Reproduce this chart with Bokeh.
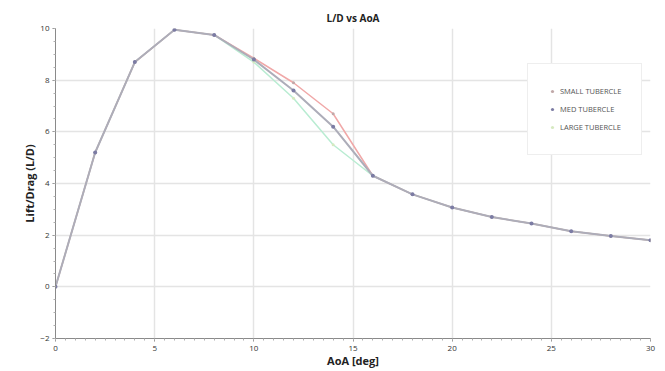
from bokeh.plotting import figure
from bokeh.models import Range1d, Legend, LegendItem, FixedTicker
from bokeh.embed import file_html
from bokeh.resources import INLINE

aoa = [0, 2, 4, 6, 8, 10, 12, 14, 16, 18, 20, 22, 24, 26, 28, 30]
small_tub = [0.0, 5.2, 8.7, 9.95, 9.75, 8.85, 7.9, 6.7, 4.3, 3.58, 3.07, 2.7, 2.45, 2.15, 1.97, 1.8]
med_tub = [0.0, 5.2, 8.7, 9.95, 9.75, 8.8, 7.6, 6.2, 4.3, 3.58, 3.07, 2.7, 2.45, 2.15, 1.97, 1.8]
large_tub = [0.0, 5.2, 8.7, 9.95, 9.75, 8.7, 7.3, 5.5, 4.3, 3.58, 3.07, 2.7, 2.45, 2.15, 1.97, 1.8]
x_ticks = [0, 5, 10, 15, 20, 25, 30]
y_ticks = [-2, 0, 2, 4, 6, 8, 10]

p = figure(width=657, height=370, output_backend="svg", toolbar_location=None,
           x_range=Range1d(0, 30), y_range=Range1d(-2, 10),
           min_border_left=55, min_border_right=7, min_border_top=28, min_border_bottom=28)

p.title.text = "L/D vs AoA"
p.title.align = "center"
p.title.text_font = "Open Sans"
p.title.text_font_size = "10px"
p.title.text_color = "#222222"
p.title.standoff = 8

p.outline_line_color = None
p.background_fill_color = "white"

for ax in (p.xaxis[0], p.yaxis[0]):
    ax.axis_line_color = "#8a8a8a"
    ax.major_tick_line_color = "#8a8a8a"
    ax.minor_tick_line_color = "#b0b0b0"
    ax.major_tick_out = 3
    ax.major_tick_in = 0
    ax.minor_tick_out = 2
    ax.minor_tick_in = 0
    ax.major_label_text_font = "Open Sans"
    ax.major_label_text_font_size = "8px"
    ax.major_label_text_color = "#333333"
    ax.axis_label_text_font = "Open Sans"
    ax.axis_label_text_font_size = "11px"
    ax.axis_label_text_font_style = "bold"
    ax.axis_label_text_color = "#222222"

p.xaxis.major_label_standoff = 4
p.yaxis.major_label_standoff = 3
p.xaxis.axis_label_standoff = -1
p.yaxis.axis_label_standoff = 0

p.xaxis.ticker = FixedTicker(ticks=x_ticks, minor_ticks=[x * 0.5 for x in range(0, 61)])
p.yaxis.ticker = FixedTicker(ticks=y_ticks, minor_ticks=[y * 0.5 - 2 for y in range(0, 25)])
p.xaxis.axis_label = "AoA [deg]"
p.yaxis.axis_label = "Lift/Drag (L/D)"

p.xgrid.ticker = FixedTicker(ticks=x_ticks)
p.ygrid.ticker = FixedTicker(ticks=y_ticks)
p.grid.grid_line_color = "#e4e4e4"
p.grid.grid_line_width = 1.5

l_large = p.line(aoa, large_tub, line_color="#b9ecd2", line_width=1.5)
s_large = p.scatter(aoa, large_tub, size=3, fill_color="#d6e9c0", line_color=None)
l_small = p.line(aoa, small_tub, line_color="#f0a8a8", line_width=1.5)
s_small = p.scatter(aoa, small_tub, size=3, fill_color="#c0a8a8", line_color=None)
l_med = p.line(aoa, med_tub, line_color="#adadb9", line_width=2)
s_med = p.scatter(aoa, med_tub, size=4, fill_color="#7c7ca4", line_color=None)

legend = Legend(items=[
    LegendItem(label="SMALL TUBERCLE", renderers=[s_small]),
    LegendItem(label="MED TUBERCLE", renderers=[s_med]),
    LegendItem(label="LARGE TUBERCLE", renderers=[s_large]),
])
legend.label_text_font = "Open Sans"
legend.label_text_font_size = "7.5px"
legend.label_text_color = "#555555"
legend.glyph_width = 8
legend.glyph_height = 8
legend.label_height = 14
legend.label_standoff = 4
legend.spacing = 4
legend.padding = 20
legend.margin = 0
legend.border_line_color = "#dddddd"
legend.border_line_width = 1.5
legend.background_fill_color = "white"
legend.background_fill_alpha = 1.0
legend.location = (472, 183)
p.add_layout(legend)

open("out.html", "w").write(file_html(p, INLINE))
